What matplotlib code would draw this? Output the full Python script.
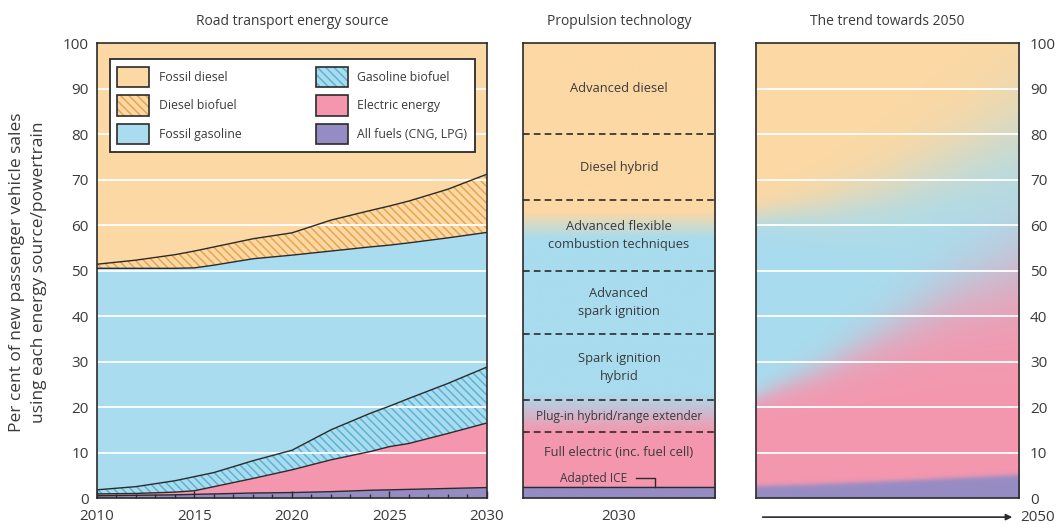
import numpy as np
import matplotlib
matplotlib.use('Agg')
import matplotlib.pyplot as plt
from matplotlib.patches import Patch
from matplotlib.legend_handler import HandlerTuple
from matplotlib.colors import to_rgb

plt.rcParams['font.family'] = ['Open Sans', 'DejaVu Sans']
plt.rcParams['hatch.linewidth'] = 1.1

# left panel: share of new passenger vehicle sales (%), per energy source
years = [2010, 2012, 2014, 2015, 2016, 2018, 2020, 2022, 2024, 2025, 2026, 2028, 2030]
all_fuels = [0.5, 0.6, 0.7, 0.8, 0.9, 1.1, 1.2, 1.4, 1.7, 1.8, 1.9, 2.1, 2.3]
electric = [0.4, 0.4, 0.6, 0.8, 1.6, 3.2, 5.0, 7.0, 8.5, 9.5, 10.1, 12.1, 14.2]
gasoline_bio = [0.9, 1.5, 2.5, 3.1, 3.1, 3.9, 4.3, 6.6, 8.4, 8.9, 9.9, 11.0, 12.3]
fossil_gasoline = [48.7, 48.0, 46.7, 45.9, 45.6, 44.4, 42.9, 39.3, 36.6, 35.4, 34.2, 32.0, 29.6]
diesel_bio = [0.9, 1.8, 3.0, 3.7, 4.0, 4.4, 4.9, 6.8, 8.0, 8.6, 9.2, 10.7, 12.8]
fossil_diesel = [48.6, 47.7, 46.5, 45.7, 44.8, 43.0, 41.7, 38.9, 36.8, 35.8, 34.7, 32.1, 28.8]

# middle panel: propulsion technology bands in 2030
tech_names = ['Adapted ICE', 'Full electric (inc. fuel cell)', 'Plug-in hybrid/range extender',
              'Spark ignition\nhybrid', 'Advanced\nspark ignition',
              'Advanced flexible\ncombustion techniques', 'Diesel hybrid', 'Advanced diesel']
tech_edges = [0, 2.5, 14.5, 21.5, 36, 50, 65.5, 80, 100]

# right panel: where the colour fronts sit on the way to 2050
trend_years = [2030, 2035, 2040, 2045, 2050]
trend_fuels_top = [2.5, 3.0, 3.6, 4.3, 5.0]
trend_elec_top = [22, 28, 36, 44, 50]
trend_gas_top = [62, 63.5, 67, 73, 80]
trend_blur = [1.0, 1.8, 2.8, 3.8, 5.0]

orange = '#FCD8A4'
blue = '#A8DCEE'
pink = '#F497AE'
purple = '#968CC4'
orange_h = '#E9A54E'
blue_h = '#5DB2D4'
ink = '#2b2b2b'
txt = '#3a3a3a'

fig = plt.figure(figsize=(10.61, 5.24), dpi=100)
ax1 = fig.add_axes([0.0914, 0.0496, 0.3676, 0.868])
ax2 = fig.add_axes([0.4929, 0.0496, 0.181, 0.868])
ax3 = fig.add_axes([0.7125, 0.0496, 0.2479, 0.868])

# ---- road transport energy source
layers = [all_fuels, electric, gasoline_bio, fossil_gasoline, diesel_bio, fossil_diesel]
faces = [purple, pink, blue, blue, orange, orange]
hatches = [None, None, '\\\\\\\\', None, '\\\\\\\\', None]
hcols = [None, None, blue_h, None, orange_h, None]
tops = np.cumsum(np.array(layers), axis=0)
bottom = np.zeros(len(years))
for i in range(len(layers)):
    if hatches[i]:
        ax1.fill_between(years, bottom, tops[i], facecolor=faces[i], edgecolor=hcols[i],
                         hatch=hatches[i], linewidth=0, zorder=1)
    else:
        ax1.fill_between(years, bottom, tops[i], facecolor=faces[i], linewidth=0, zorder=1)
    bottom = tops[i]
for g in range(10, 100, 10):
    ax1.axhline(g, color='white', lw=1.3, zorder=2)
for i in range(5):
    ax1.plot(years, tops[i], color=ink, lw=1.0, zorder=3)

ax1.set_xlim(2010, 2030)
ax1.set_ylim(0, 100)
ax1.set_xticks([2010, 2015, 2020, 2025, 2030])
ax1.set_xticks(range(2010, 2031), minor=True)
ax1.set_yticks(range(0, 101, 10))
ax1.tick_params(axis='x', direction='in', length=5, width=1, color=ink, pad=8,
                labelsize=11, labelcolor=txt)
ax1.tick_params(axis='x', which='minor', direction='in', length=3, width=1, color=ink)
ax1.tick_params(axis='y', length=0, pad=6, labelsize=11, labelcolor=txt)
ax1.set_title('Road transport energy source', fontsize=10, color=txt, pad=13)

leg_names = ['Fossil diesel', 'Diesel biofuel', 'Fossil gasoline',
             'Gasoline biofuel', 'Electric energy', 'All fuels (CNG, LPG)']
leg_faces = [orange, orange, blue, blue, pink, purple]
leg_hatch = [None, '\\\\\\\\', None, '\\\\\\\\', None, None]
leg_hcol = [orange, orange_h, blue, blue_h, pink, purple]
handles = []
for f, h, hc in zip(leg_faces, leg_hatch, leg_hcol):
    handles.append((Patch(facecolor=f, edgecolor=hc, hatch=h, linewidth=0),
                    Patch(fill=False, edgecolor=ink, linewidth=1.2)))
leg = ax1.legend(handles, leg_names, ncol=2, loc='upper left',
                 bbox_to_anchor=(0.033, 0.765, 0.936, 0.2), mode='expand', borderaxespad=0,
                 handler_map={tuple: HandlerTuple(ndivide=1, pad=0)},
                 fontsize=8.8, handlelength=2.6, handleheight=2.2, labelspacing=0.65,
                 borderpad=0.62, handletextpad=0.8, fancybox=False, framealpha=1,
                 edgecolor=ink, labelcolor=txt)
leg.get_frame().set_linewidth(1.3)
leg.set_zorder(5)

fig.text(17 / 1061, 0.481, 'Per cent of new passenger vehicle sales', rotation=90,
         ha='center', va='center', fontsize=12.5, color=txt)
fig.text(39 / 1061, 0.481, 'using each energy source/powertrain', rotation=90,
         ha='center', va='center', fontsize=12.5, color=txt)

# ---- propulsion technology (2030)
stop_vals = [0, 2.49, 2.5, 14.5, 23, 57, 63, 100]
stop_cols = [purple, purple, pink, pink, blue, blue, orange, orange]
vv = np.linspace(0, 100, 1000)
rgb = np.array([to_rgb(c) for c in stop_cols])
col = np.stack([np.interp(vv, stop_vals, rgb[:, k]) for k in range(3)], axis=-1)
ax2.imshow(col[:, None, :], extent=[0, 1, 0, 100], origin='lower', aspect='auto', zorder=0)
for e in tech_edges[2:-1]:
    ax2.axhline(e, color=ink, lw=1.2, ls=(0, (4, 2.5)), zorder=2)
ax2.axhline(tech_edges[1], color=ink, lw=1.0, zorder=2)
for i in range(1, len(tech_names)):
    mid = (tech_edges[i] + tech_edges[i + 1]) / 2
    if i == 1:
        mid = 10.1
    fs = 8.6 if i == 2 else 9.3
    ax2.text(0.5, mid, tech_names[i], ha='center', va='center', fontsize=fs,
             color=txt, linespacing=1.5)
ax2.text(0.37, 4.3, tech_names[0], ha='center', va='center', fontsize=8.6, color=txt)
ax2.plot([0.59, 0.69, 0.69], [4.3, 4.3, tech_edges[1]], color=ink, lw=1.0)
ax2.set_xlim(0, 1)
ax2.set_ylim(0, 100)
ax2.set_yticks([])
ax2.set_xticks([0.5])
ax2.set_xticklabels(['2030'])
ax2.tick_params(axis='x', length=0, pad=8, labelsize=11, labelcolor=txt)
ax2.set_title('Propulsion technology', fontsize=10, color=txt, pad=13)

# ---- trend towards 2050
xs = np.linspace(trend_years[0], trend_years[-1], 400)
vv = np.linspace(0, 100, 600)[:, None]
b_f = np.interp(xs, trend_years, trend_fuels_top)[None, :]
b_e = np.interp(xs, trend_years, trend_elec_top)[None, :]
b_g = np.interp(xs, trend_years, trend_gas_top)[None, :]
w = np.interp(xs, trend_years, trend_blur)[None, :]


def step(d, width):
    return 1.0 / (1.0 + np.exp(-d / width))


img = np.ones((600, 400, 3)) * np.array(to_rgb(purple))
for b, c, wd in [(b_f, pink, 0.3 + 0 * w), (b_e, blue, w * 1.2), (b_g, orange, w * 1.4)]:
    s = step(vv - b, wd)[..., None]
    img = img * (1 - s) + np.array(to_rgb(c)) * s
ax3.imshow(img, extent=[trend_years[0], trend_years[-1], 0, 100], origin='lower',
           aspect='auto', zorder=0)
for g in range(10, 100, 10):
    ax3.axhline(g, color='white', lw=1.3, zorder=2)
ax3.set_xlim(trend_years[0], trend_years[-1])
ax3.set_ylim(0, 100)
ax3.set_xticks([])
ax3.set_yticks(range(0, 101, 10))
ax3.yaxis.tick_right()
ax3.tick_params(axis='y', length=0, pad=8, labelsize=11, labelcolor=txt)
ax3.set_title('The trend towards 2050', fontsize=10, color=txt, pad=13)
ax3.annotate('', xy=(0.985, -0.042), xytext=(0.015, -0.042), xycoords='axes fraction',
             arrowprops=dict(arrowstyle='-|>', color=ink, lw=1.2, mutation_scale=9),
             annotation_clip=False)
ax3.text(1.005, -0.042, '2050', transform=ax3.transAxes, ha='left', va='center',
         fontsize=11, color=txt)

for ax in (ax1, ax2, ax3):
    for sp in ax.spines.values():
        sp.set_color(ink)
        sp.set_linewidth(1.2)
        sp.set_zorder(6)

fig.savefig('out.png', dpi=100)
